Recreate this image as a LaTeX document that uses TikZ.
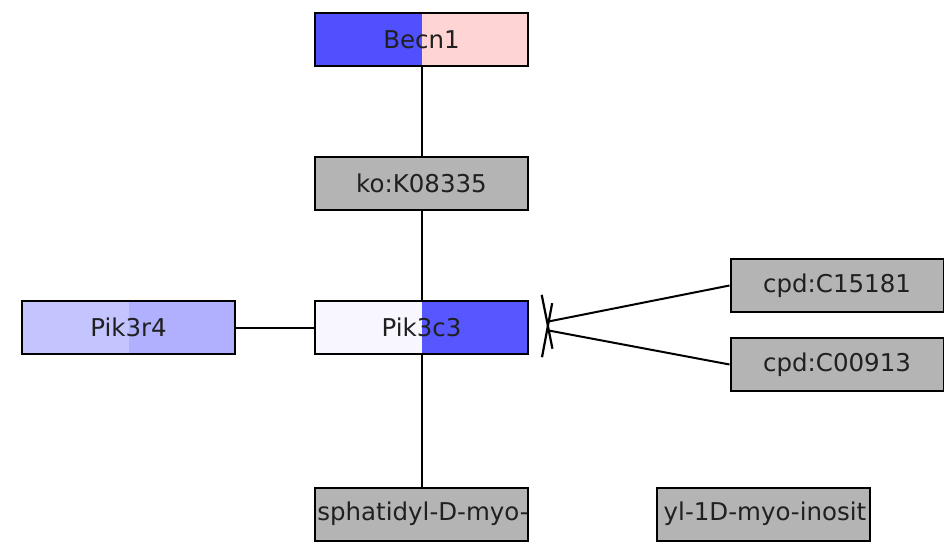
\documentclass[tikz,border=0pt]{standalone}
\usepackage{fontspec}
\setmainfont{DejaVu Sans}
\usetikzlibrary{arrows.meta}
\definecolor{gbox}{HTML}{B4B4B4}
\definecolor{bblue}{HTML}{5050FF}
\definecolor{bpink}{HTML}{FFD4D4}
\definecolor{pwhite}{HTML}{F8F6FF}
\definecolor{pblue}{HTML}{5757FF}
\definecolor{rl}{HTML}{C4C4FF}
\definecolor{rr}{HTML}{B0B0FF}
\definecolor{txtc}{HTML}{202020}
\tikzset{
  box/.style={draw=black, line width=2pt, minimum width=213pt, minimum height=53pt, inner sep=0pt, font=\fontsize{24.5}{28}\selectfont, text=txtc},
  graybox/.style={box, fill=gbox},
  halfbox/.style 2 args={box, path picture={
      \fill[#1] (path picture bounding box.south west) rectangle (path picture bounding box.north);
      \fill[#2] (path picture bounding box.south) rectangle (path picture bounding box.north east);}},
  link/.style={draw=black, line width=2pt},
  inhib/.style={link, -{Bar[width=55pt, line width=2.2pt]}},
  cliptext/.style={font=\fontsize{24.5}{28}\selectfont, text=txtc, inner sep=0pt}
}
\begin{document}
\begin{tikzpicture}[x=1pt, y=-1pt]
\useasboundingbox (0,0) rectangle (944,548);
\node[halfbox={bblue}{bpink}] (becn) at (421.5,39.5) {Becn1};
\node[graybox] (ko) at (421.5,183.5) {ko:K08335};
\node[halfbox={pwhite}{pblue}] (pik3c3) at (421.5,327.5) {Pik3c3};
\node[halfbox={rl}{rr}] (pik3r4) at (128.5,327.5) {Pik3r4};
\node[graybox] (c1) at (837,285.5) {cpd:C15181};
\node[graybox] (c2) at (837,364.5) {cpd:C00913};
\node[graybox] (pi1) at (421.5,514) {};
\node[graybox] (pi2) at (763,514) {};
\begin{scope}
  \clip (pi1.south west) rectangle (pi1.north east);
  \node[cliptext] (pi1t) at (423,514) {sphatidyl-D-myo-};
\end{scope}
\begin{scope}
  \clip (pi2.south west) rectangle (pi2.north east);
  \node[cliptext] (pi2t) at (765,514) {yl-1D-myo-inosit};
\end{scope}
\coordinate (t1) at (546,322);
\coordinate (t2) at (546,330);
\draw[link] (becn.south) -- (ko.north);
\draw[link] (ko.south) -- (pik3c3.north);
\draw[link] (pik3c3.south) -- (pi1.north);
\draw[link] (pik3r4.east) -- (pik3c3.west);
\draw[inhib] (c1.west) -- (t1);
\draw[inhib] (c2.west) -- (t2);
\end{tikzpicture}
\end{document}
